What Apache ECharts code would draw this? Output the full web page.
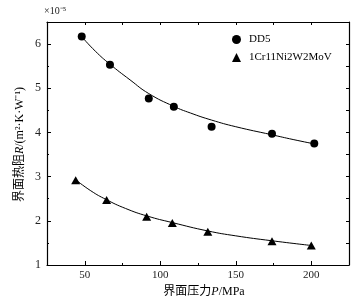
<!DOCTYPE html>
<html><head><meta charset="utf-8">
<script src="https://cdn.jsdelivr.net/npm/echarts@6/dist/echarts.min.js"></script>
<style>html,body{margin:0;padding:0;background:#fff}#c{width:361px;height:303px}</style>
</head><body><div id="c"></div>
<script>
// DD5 measured points
var dd5X = [48, 66.7, 92.4, 109, 134, 174, 202];
var dd5Y = [6.17, 5.53, 4.77, 4.58, 4.13, 3.97, 3.75];
// DD5 fitted curve
var dd5FitX = [48.2, 57, 66.5, 80, 92.4, 109, 120, 134, 150, 173.6, 188, 202.2];
var dd5FitY = [6.16, 5.84, 5.55, 5.19, 4.88, 4.59, 4.44, 4.28, 4.13, 3.95, 3.84, 3.74];
// 1Cr11Ni2W2MoV measured points
var crX = [44, 64.5, 91, 108, 131.5, 174, 200];
var crY = [2.92, 2.47, 2.09, 1.95, 1.75, 1.54, 1.44];
// 1Cr11Ni2W2MoV fitted curve
var crFitX = [44, 54, 64.3, 77, 91.2, 108, 131.6, 150, 173.6, 200.4];
var crFitY = [2.93, 2.68, 2.48, 2.28, 2.11, 1.96, 1.77, 1.66, 1.55, 1.44];
var xTicksMajor = [50, 100, 150, 200];
var yTicks = [1, 2, 3, 4, 5, 6];
var names = ['DD5', '1Cr11Ni2W2MoV'];

function zip(a, b) { return a.map(function (v, i) { return [v, b[i]]; }); }
var serif = '"Liberation Serif","Noto Sans CJK SC",serif';
var chart = echarts.init(document.getElementById('c'), null, {renderer: 'canvas'});
var axisLineStyle = {color: '#000', width: 1.2};
chart.setOption({
  animation: false,
  backgroundColor: '#fff',
  textStyle: {fontFamily: serif, color: '#000'},
  grid: {left: 47, right: 12, top: 22, bottom: 36, show: false},
  legend: {
    orient: 'vertical', left: 227, top: 29, itemWidth: 9, itemHeight: 9, itemGap: 7,
    data: [{name: names[0], icon: 'circle'}, {name: names[1], icon: 'triangle'}],
    textStyle: {fontFamily: serif, fontSize: 11, color: '#000', padding: [0, 0, 0, 3]}
  },
  xAxis: [
    {type: 'value', position: 'bottom', min: 25, max: 225, interval: 25,
     axisLine: {lineStyle: axisLineStyle}, splitLine: {show: false},
     axisTick: {inside: true, length: 2, lineStyle: {color: '#000'}},
     axisLabel: {fontFamily: serif, fontSize: 11, color: '#222', margin: 5,
       formatter: function (v) { return xTicksMajor.indexOf(v) >= 0 ? String(v) : ''; }},
     name: '{c|界面压力}{i|P}{c|/MPa}', nameLocation: 'middle', nameGap: 21,
     nameTextStyle: {padding: [0, 0, 0, 12], rich: {
       c: {fontFamily: serif, fontSize: 12, color: '#000'},
       i: {fontFamily: serif, fontSize: 12, fontStyle: 'italic', color: '#000'}}}},
    {type: 'value', position: 'bottom', min: 25, max: 225, gridIndex: 0,
     axisLine: {show: false}, splitLine: {show: false}, axisLabel: {show: false},
     axisTick: {inside: true, length: 4, customValues: xTicksMajor, lineStyle: {color: '#000'}}},
    {type: 'value', position: 'top', min: 25, max: 225, interval: 25,
     axisLine: {lineStyle: axisLineStyle}, splitLine: {show: false}, axisLabel: {show: false},
     axisTick: {inside: true, length: 3, lineStyle: {color: '#000'}}}
  ],
  yAxis: [
    {type: 'value', position: 'left', min: 1, max: 6.5, interval: 1,
     axisLine: {lineStyle: axisLineStyle}, splitLine: {show: false},
     axisTick: {inside: true, length: 4, lineStyle: {color: '#000'}},
     minorTick: {show: true, splitNumber: 2, length: 2, lineStyle: {color: '#000'}},
     axisLabel: {fontFamily: serif, fontSize: 12, color: '#222', margin: 6,
       formatter: function (v) { return yTicks.indexOf(v) >= 0 ? String(v) : ''; }}},
    {type: 'value', position: 'right', min: 1, max: 6.5, interval: 0.5,
     axisLine: {lineStyle: axisLineStyle}, splitLine: {show: false}, axisLabel: {show: false},
     axisTick: {inside: true, length: 3, lineStyle: {color: '#000'}}}
  ],
  graphic: [
    {type: 'text', left: 44, top: 6,
     style: {text: '×10⁻⁵', fontFamily: serif, fontSize: 10, fill: '#222'}},
    {type: 'text', x: 20, y: 144.5, rotation: Math.PI / 2,
     style: {text: '{c|界面热阻}{i|R}{c|/(m²·K·W⁻¹)}', align: 'center', verticalAlign: 'middle',
       rich: {c: {fontFamily: serif, fontSize: 12, fill: '#000'},
              i: {fontFamily: serif, fontSize: 12, fontStyle: 'italic', fill: '#000'}}}}
  ],
  series: [
    {type: 'line', name: 'fit1', data: zip(dd5FitX, dd5FitY), smooth: 0.5,
     showSymbol: false, symbol: 'none', lineStyle: {color: '#000', width: 1}, silent: true, z: 1},
    {type: 'line', name: 'fit2', data: zip(crFitX, crFitY), smooth: 0.5,
     showSymbol: false, symbol: 'none', lineStyle: {color: '#000', width: 1}, silent: true, z: 1},
    {type: 'scatter', name: names[0], data: zip(dd5X, dd5Y), symbol: 'circle', symbolSize: 8,
     itemStyle: {color: '#000', opacity: 1}, z: 3},
    {type: 'scatter', name: names[1], data: zip(crX, crY), symbol: 'triangle', symbolSize: [9, 8],
     itemStyle: {color: '#000', opacity: 1}, z: 3}
  ]
});
</script></body></html>
